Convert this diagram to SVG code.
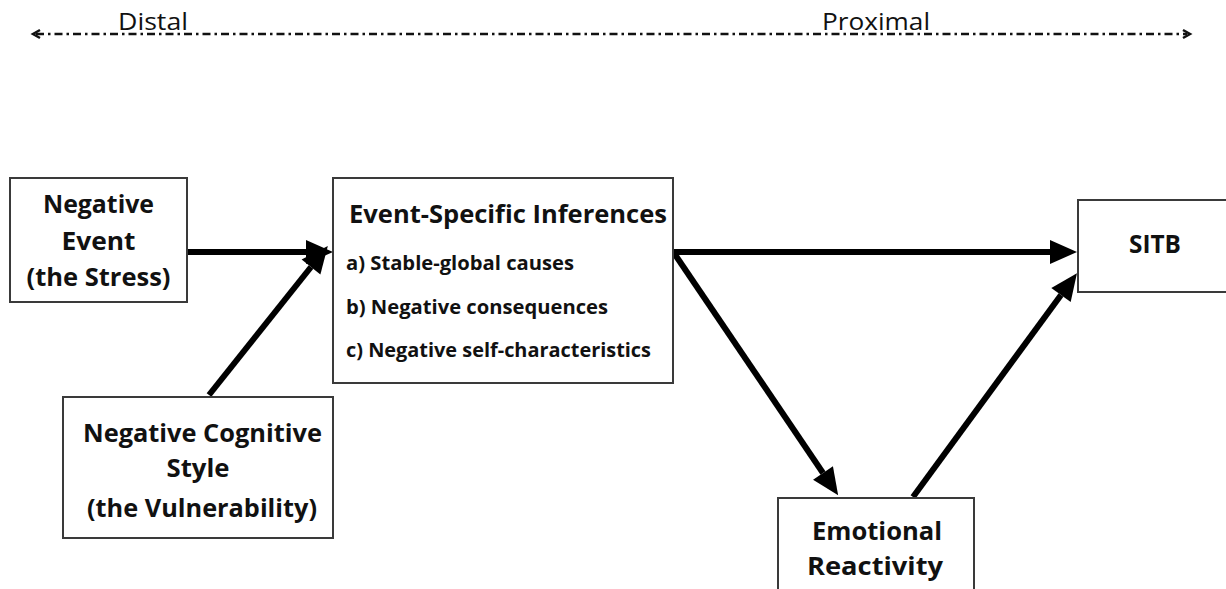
<svg xmlns="http://www.w3.org/2000/svg" width="1226" height="589" viewBox="0 0 1226 589">
  <style>
    .box { fill: #ffffff; stroke: #3a3a3a; stroke-width: 2; }
    text { font-variant-ligatures: none; }
    .title { font-family: "Open Sans", "Noto Sans", sans-serif; font-weight: bold; font-size: 25px; fill: #111; text-anchor: middle; }
    .item { font-family: "Open Sans", "Noto Sans", sans-serif; font-weight: bold; font-size: 19px; fill: #111; }
    .scale { font-family: "Open Sans", "Noto Sans", sans-serif; font-size: 23px; fill: #111; }
    .conn { stroke: #000; stroke-width: 6; fill: none; marker-end: url(#head); }
    .axis { stroke: #111; stroke-width: 2.5; stroke-dasharray: 8 4 2.5 4; fill: none; }
  </style>
  <defs>
    <marker id="head" markerUnits="userSpaceOnUse" markerWidth="30" markerHeight="30" viewBox="0 -15 30 30" refX="0" refY="0" orient="auto" overflow="visible">
      <path d="M0,-12 L27,0 L0,12 z" fill="#000"/>
    </marker>
  </defs>

  <rect width="1226" height="589" fill="#ffffff"/>

  <!-- distal-to-proximal axis -->
  <g id="axis">
    <line class="axis" x1="36" y1="34" x2="1187" y2="34"/>
    <path d="M40,30 L33,34 L40,38" fill="none" stroke="#111" stroke-width="2.5"/>
    <path d="M1183,30 L1190,34 L1183,38" fill="none" stroke="#111" stroke-width="2.5"/>
    <text class="scale" x="118" y="30" textLength="70" lengthAdjust="spacingAndGlyphs">Distal</text>
    <text class="scale" x="822" y="30" textLength="108" lengthAdjust="spacingAndGlyphs">Proximal</text>
  </g>

  <!-- connectors -->
  <g id="connectors">
    <line class="conn" x1="187" y1="252" x2="306" y2="252"/>
    <line class="conn" x1="209" y1="395" x2="311" y2="267"/>
    <line class="conn" x1="674" y1="252" x2="1050" y2="252"/>
    <line class="conn" x1="674" y1="253" x2="823" y2="473"/>
    <line class="conn" x1="913" y1="497" x2="1061" y2="295"/>
  </g>

  <g id="negative-event">
    <rect class="box" x="10" y="178" width="177" height="124"/>
    <text class="title" x="98.5" y="213" textLength="111" lengthAdjust="spacingAndGlyphs">Negative</text>
    <text class="title" x="98.5" y="250" textLength="74" lengthAdjust="spacingAndGlyphs">Event</text>
    <text class="title" x="98.5" y="286" textLength="144" lengthAdjust="spacingAndGlyphs">(the Stress)</text>
  </g>

  <g id="event-specific-inferences">
    <rect class="box" x="333" y="178" width="340" height="205"/>
    <text class="title" x="508" y="223" textLength="318" lengthAdjust="spacingAndGlyphs">Event-Specific Inferences</text>
    <text class="item" x="346" y="270" textLength="228" lengthAdjust="spacingAndGlyphs">a) Stable-global causes</text>
    <text class="item" x="346" y="314" textLength="262" lengthAdjust="spacingAndGlyphs">b) Negative consequences</text>
    <text class="item" x="346" y="357" textLength="305" lengthAdjust="spacingAndGlyphs">c) Negative self-characteristics</text>
  </g>

  <g id="sitb">
    <rect class="box" x="1078" y="200" width="160" height="92"/>
    <text class="title" x="1155" y="253" textLength="52" lengthAdjust="spacingAndGlyphs">SITB</text>
  </g>

  <g id="negative-cognitive-style">
    <rect class="box" x="63" y="397" width="270" height="141"/>
    <text class="title" x="202.5" y="442" textLength="239" lengthAdjust="spacingAndGlyphs">Negative Cognitive</text>
    <text class="title" x="198" y="477" textLength="63" lengthAdjust="spacingAndGlyphs">Style</text>
    <text class="title" x="202" y="517" textLength="230" lengthAdjust="spacingAndGlyphs">(the Vulnerability)</text>
  </g>

  <g id="emotional-reactivity">
    <rect class="box" x="778" y="498" width="196" height="110"/>
    <text class="title" x="877" y="540" textLength="130" lengthAdjust="spacingAndGlyphs">Emotional</text>
    <text class="title" x="875" y="575" textLength="136" lengthAdjust="spacingAndGlyphs">Reactivity</text>
  </g>
</svg>
